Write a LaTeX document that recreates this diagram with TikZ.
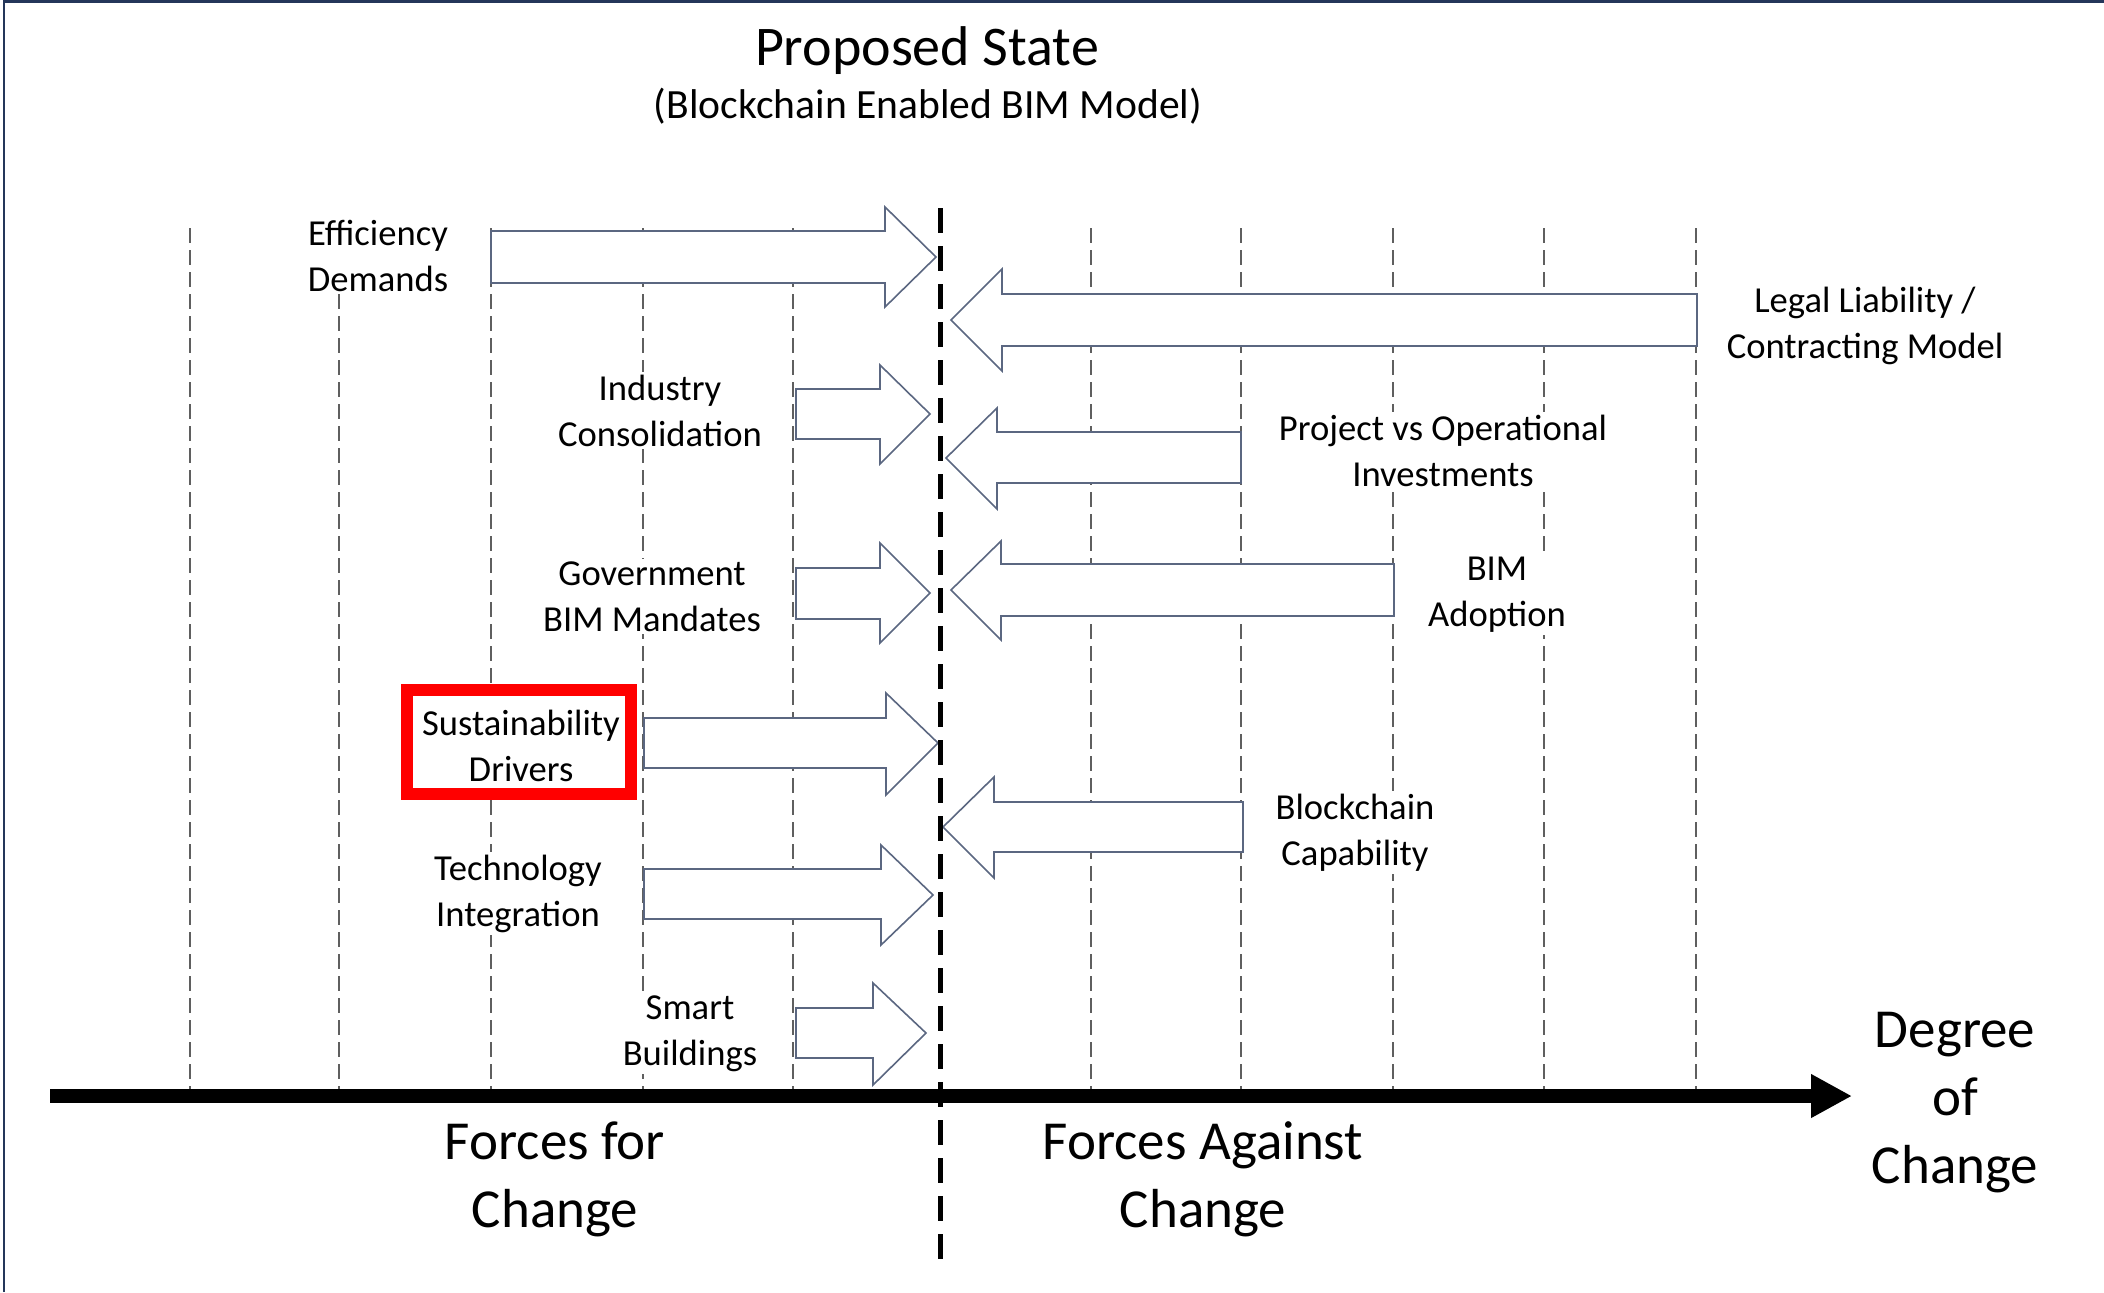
\documentclass[tikz,border=0pt]{standalone}
\usepackage{fontspec}
\setmainfont{Carlito}
\usetikzlibrary{arrows.meta}

\definecolor{framenavy}{HTML}{24365A}
\definecolor{guidegray}{HTML}{5F5F5F}
\definecolor{arrowslate}{HTML}{5B6781}
\definecolor{boxred}{HTML}{FF0000}

% one block arrow: base x, shaft top, shaft bottom, head x, head top, head bottom, tip x, tip y
\newcommand\forcearrow[8]{%
  \draw[force] (#1,#2) -- (#4,#2) -- (#4,#5) -- (#7,#8) -- (#4,#6) -- (#4,#3) -- (#1,#3) -- cycle;}

\begin{document}
\begin{tikzpicture}[x=0.5pt,y=-0.5pt,
  guide/.style={draw=guidegray, line width=0.9pt, dash pattern=on 7.5pt off 3.5pt},
  force/.style={draw=arrowslate, fill=white, line width=0.8pt, line join=miter},
  % labels are placed by the baseline of their last line
  lbl/.style={fill=white, align=center, inner sep=1.5pt, anchor=base,
    font=\fontsize{18.3}{22.8}\selectfont},
  big/.style={align=center, inner sep=0pt, anchor=base,
    font=\fontsize{27.5}{33.8}\selectfont},
  highlight/.style={draw=boxred, fill=white, line width=6pt, inner sep=0pt,
    minimum width=112pt, minimum height=52pt},
]
\useasboundingbox (0,0) rectangle (2104,1292);

% frame on the top and left edges
\draw[framenavy, line width=1.3pt] (4,1292) -- (4,1.3) -- (2104,1.3);

% title
\node[anchor=base, inner sep=0pt, font=\fontsize{28}{33}\selectfont] (title) at (927,65) {Proposed State};
\node[anchor=base, inner sep=0pt, font=\fontsize{20.8}{25}\selectfont] (subtitle) at (928,118) {(Blockchain Enabled BIM Model)};

% scale guides
\foreach \gx in {190,339,491,643,793,1091,1241,1393,1544,1696}
  \draw[guide] (\gx,228) -- (\gx,1096);

% degree-of-change axis
\coordinate (axisL) at (50,1096);
\coordinate (axisR) at (1852,1096);
\draw[line width=7pt, -{Triangle[length=20.5pt,width=20.5pt]}] (axisL) -- (axisR);

% forces for change
\forcearrow{491}{231}{283}{885}{207}{307}{936}{257}
\forcearrow{796}{389}{439}{880}{365}{464}{930}{414}
\forcearrow{796}{568}{619}{880}{543}{643}{930}{593}
\forcearrow{644}{718}{768}{886}{693}{795}{938}{743}
\forcearrow{644}{869}{919}{881}{845}{945}{933}{895}
\forcearrow{796}{1008}{1058}{873}{983}{1085}{926}{1033}

% forces against change
\forcearrow{1697}{294}{346}{1002}{269}{371}{951}{320}
\forcearrow{1241}{432}{483}{997}{408}{509}{946}{458}
\forcearrow{1394}{564}{616}{1001}{541}{640}{951}{590}
\forcearrow{1243}{802}{852}{994}{777}{878}{943}{827}

% highlight frame around one force
\node[highlight] (susframe) at (519,742) {};

% force labels
\node[lbl] (eff)   at (378,291)  {Efficiency\\Demands};
\node[lbl] (ind)   at (660,446)  {Industry\\Consolidation};
\node[lbl] (gov)   at (652,631)  {Government\\BIM Mandates};
\node[lbl] (sus)   at (521,781)  {Sustainability\\Drivers};
\node[lbl] (tech)  at (518,926)  {Technology\\Integration};
\node[lbl] (smart) at (690,1065) {Smart\\Buildings};
\node[lbl] (legal) at (1865,358) {Legal Liability /\\Contracting Model};
\node[lbl] (proj)  at (1443,486) {Project vs Operational\\Investments};
\node[lbl] (bim)   at (1497,626) {BIM\\Adoption};
\node[lbl] (chain) at (1355,865) {Blockchain\\Capability};

% proposed state divider
\coordinate (divTop) at (940.5,208);
\coordinate (divBot) at (940.5,1263);
\draw[black, line width=2.3pt, dash pattern=on 12.5pt off 6.5pt] (divTop) -- (divBot);

% side captions
\node[big] (forcesfor) at (555,1227)  {Forces for\\Change};
\node[big] (forcesagainst) at (1203,1227) {Forces Against\\Change};
\node[big] (degree) at (1955,1183) {Degree\\of\\Change};
\end{tikzpicture}
\end{document}
